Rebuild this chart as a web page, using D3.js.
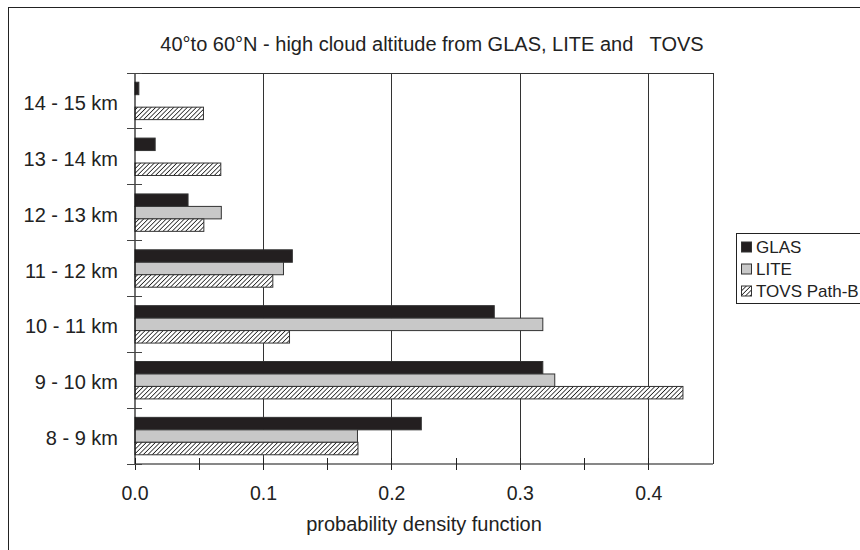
<!DOCTYPE html>
<html><head><meta charset="utf-8">
<script src="https://cdn.jsdelivr.net/npm/d3@7"></script>
<style>body{margin:0;background:#fff}svg{display:block}text{font-family:"Liberation Sans",Arial,sans-serif;fill:#222}</style>
</head><body><svg id="c" width="860" height="550"></svg>
<script>
const categories = ["14 - 15 km","13 - 14 km","12 - 13 km","11 - 12 km","10 - 11 km","9 - 10 km","8 - 9 km"];
const seriesNames = ["GLAS","LITE","TOVS Path-B"];
const glas = [0.003, 0.0157, 0.0413, 0.1225, 0.2797, 0.3175, 0.2229];
const lite = [0, 0, 0.0672, 0.1156, 0.3175, 0.3268, 0.1732];
const tovs = [0.0533, 0.0668, 0.0536, 0.1073, 0.1203, 0.4266, 0.1736];
const xTicks = [0, 0.1, 0.2, 0.3, 0.4];
const xMinor = [0.05, 0.15, 0.25, 0.35];
const title = "40°to 60°N - high cloud altitude from GLAS, LITE and   TOVS";
const xTitle = "probability density function";

const svg = d3.select("#c");
const defs = svg.append("defs");
const pat = defs.append("pattern").attr("id","hatch").attr("patternUnits","userSpaceOnUse")
  .attr("width",3.2).attr("height",3.2).attr("patternTransform","rotate(45)");
pat.append("rect").attr("width",3.2).attr("height",3.2).attr("fill","#fff");
pat.append("line").attr("x1",0).attr("y1",0).attr("x2",0).attr("y2",3.2).attr("stroke","#222").attr("stroke-width",1.6);

const fills = {"GLAS":"#231f20","LITE":"#c8c8c8","TOVS Path-B":"url(#hatch)"};
const seriesData = {"GLAS":glas,"LITE":lite,"TOVS Path-B":tovs};

// outer frame
svg.append("rect").attr("x",8.5).attr("y",7.5).attr("width",900).attr("height",600)
  .attr("fill","none").attr("stroke","#222").attr("stroke-width",1);

const L=135, R=713, T=73, B=464;
const x = d3.scaleLinear().domain([0,0.45]).range([L,R]);
const y0 = d3.scaleBand().domain(categories).range([T,B]).padding(0);
const y1 = d3.scaleBand().domain(seriesNames).range([0,y0.bandwidth()]).paddingInner(0).paddingOuter(0.74);

// gridlines
svg.append("g").selectAll("line").data(xTicks.filter(d=>d>0)).join("line")
  .attr("x1",d=>x(d)).attr("x2",d=>x(d)).attr("y1",T).attr("y2",B)
  .attr("stroke","#333").attr("stroke-width",1).attr("shape-rendering","crispEdges");
// plot border top & right
svg.append("line").attr("x1",L).attr("x2",R).attr("y1",T).attr("y2",T).attr("stroke","#333").attr("shape-rendering","crispEdges");
svg.append("line").attr("x1",R).attr("x2",R).attr("y1",T).attr("y2",B).attr("stroke","#333").attr("shape-rendering","crispEdges");

// bars
const rows = [];
categories.forEach((c,i)=>seriesNames.forEach(s=>rows.push({c,s,v:seriesData[s][i]})));
svg.append("g").selectAll("rect").data(rows.filter(d=>d.v>0)).join("rect")
  .attr("x",x(0)).attr("y",d=>y0(d.c)+y1(d.s)).attr("width",d=>x(d.v)-x(0)).attr("height",y1.bandwidth())
  .attr("fill",d=>fills[d.s]).attr("stroke","#333").attr("stroke-width",1);

// x axis
const xa = svg.append("g").attr("transform",`translate(0,${B})`);
xa.append("line").attr("x1",L).attr("x2",R).attr("stroke","#111").attr("stroke-width",1.2);
xa.selectAll("line.t").data(xTicks.concat(xMinor)).join("line").attr("class","t")
  .attr("x1",d=>x(d)).attr("x2",d=>x(d)).attr("y1",-6).attr("y2",6).attr("stroke","#222").attr("shape-rendering","crispEdges");
xa.selectAll("text").data(xTicks).join("text")
  .attr("x",d=>x(d)).attr("y",36).attr("text-anchor","middle").attr("font-size",19.5)
  .text(d3.format(".1f"));
svg.append("text").attr("x",x(0.225)).attr("y",531).attr("text-anchor","middle").attr("font-size",20).text(xTitle);

// y axis
const ya = svg.append("g");
ya.append("line").attr("x1",L).attr("x2",L).attr("y1",T).attr("y2",B).attr("stroke","#111").attr("stroke-width",1.2);
const bounds = categories.map(c=>y0(c)).concat([B]);
ya.selectAll("line.t").data(bounds).join("line").attr("class","t")
  .attr("x1",L-8).attr("x2",L+7).attr("y1",d=>d).attr("y2",d=>d).attr("stroke","#444").attr("shape-rendering","crispEdges");
ya.selectAll("text").data(categories).join("text")
  .attr("x",118).attr("y",d=>y0(d)+y0.bandwidth()/2).attr("dy","0.45em").attr("text-anchor","end").attr("font-size",20)
  .text(d=>d);

// title
svg.append("text").attr("x",432).attr("y",51).attr("text-anchor","middle").attr("font-size",20)
  .attr("xml:space","preserve").style("white-space","pre").text(title);

// legend
const lg = svg.append("g");
lg.append("rect").attr("x",736.5).attr("y",233.5).attr("width",160).attr("height",70).attr("fill","#fff").attr("stroke","#222");
seriesNames.forEach((s,i)=>{
  const yy = 247 + i*22;
  lg.append("rect").attr("x",741.5).attr("y",yy-5).attr("width",10).attr("height",10).attr("fill",fills[s]).attr("stroke","#333");
  lg.append("text").attr("x",756).attr("y",yy).attr("dy","0.37em").attr("font-size",17).text(s);
});
</script></body></html>
